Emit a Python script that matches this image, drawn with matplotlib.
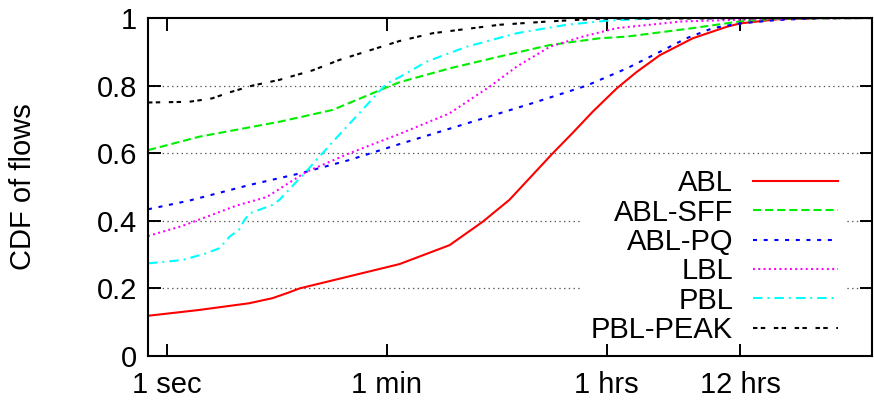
import numpy as np
import matplotlib

matplotlib.use('Agg')
import matplotlib.pyplot as plt

# flow duration (seconds) vs. cumulative fraction of flows
abl_t = [0.7, 1.8, 4.6, 7.1, 9.5, 11.8, 30, 76, 193, 357, 588, 1320, 1910, 2780,
         4350, 6330, 9700, 17900, 33700, 43200, 86000, 200000, 505000]
abl_v = [0.119, 0.136, 0.156, 0.171, 0.187, 0.200, 0.236, 0.272, 0.328, 0.397,
         0.462, 0.600, 0.660, 0.723, 0.792, 0.841, 0.890, 0.940, 0.974, 0.984,
         0.996, 1.0, 1.0]

sff_t = [0.7, 1.83, 8.1, 21.8, 60, 76, 193, 490, 1250, 3160, 5250, 17900,
         43200, 86000, 505000]
sff_v = [0.609, 0.649, 0.693, 0.728, 0.795, 0.810, 0.851, 0.886, 0.920, 0.940,
         0.945, 0.970, 0.990, 0.998, 1.0]

pq_t = [0.7, 1.52, 4.64, 11.8, 29.9, 76, 265, 903, 1590, 2480, 5250, 9700,
        15900, 26000, 43200, 86000, 200000, 505000]
pq_v = [0.434, 0.460, 0.506, 0.540, 0.580, 0.627, 0.688, 0.748, 0.777, 0.800,
        0.851, 0.900, 0.940, 0.970, 0.984, 0.994, 1.0, 1.0]

lbl_t = [0.7, 1.33, 2.2, 3.64, 4.64, 6.37, 13.4, 29.9, 76, 193, 407, 673,
         1250, 2310, 4345, 14860, 86000, 505000]
lbl_v = [0.355, 0.385, 0.415, 0.445, 0.456, 0.470, 0.545, 0.600, 0.657, 0.718,
         0.797, 0.856, 0.915, 0.945, 0.970, 0.990, 0.998, 1.0]

pbl_t = [0.7, 1.33, 2.08, 2.65, 3.2, 3.84, 4.22, 4.64, 7.12, 8.1, 13.4, 21.8,
         60, 76, 126, 265, 673, 1710, 3600, 9700, 505000]
pbl_v = [0.274, 0.284, 0.304, 0.319, 0.353, 0.375, 0.402, 0.422, 0.447, 0.462,
         0.547, 0.633, 0.807, 0.825, 0.871, 0.915, 0.955, 0.980, 0.992, 1.0, 1.0]

peak_t = [0.7, 1.5, 2.3, 3.2, 4.9, 8.1, 15, 24.8, 76, 141, 490, 1250, 3160,
          505000]
peak_v = [0.750, 0.752, 0.762, 0.780, 0.800, 0.817, 0.845, 0.876, 0.932, 0.955,
          0.980, 0.990, 0.998, 1.0]

xticks = [1, 60, 3600, 43200]
xticklabels = ['1 sec', '1 min', '1 hrs', '12 hrs']
yticks = [0, 0.2, 0.4, 0.6, 0.8, 1]
yticklabels = ['0', '0.2', '0.4', '0.6', '0.8', '1']

fs = 21
plt.rcParams['font.family'] = ['Liberation Sans', 'DejaVu Sans']
plt.rcParams['font.size'] = fs
plt.rcParams['lines.scale_dashes'] = False

fig = plt.figure(figsize=(8.74, 4.05), dpi=100)
ax = fig.add_axes([148 / 874, 1 - 356 / 405, 724 / 874, 338 / 405])

series = [
    (abl_t, abl_v, 'ABL', '#ff0000', '-'),
    (sff_t, sff_v, 'ABL-SFF', '#00ee00', (0, (5.8, 2.9))),
    (pq_t, pq_v, 'ABL-PQ', '#0000ff', (0, (2.9, 4.8))),
    (lbl_t, lbl_v, 'LBL', '#ff00ff', (0, (1.4, 2.4))),
    (pbl_t, pbl_v, 'PBL', '#00ffff', (0, (6.8, 3.6, 1.4, 3.6))),
    (peak_t, peak_v, 'PBL-PEAK', '#000000', (0, (3.2, 2.4, 3.2, 6.2))),
]
for t, v, name, col, ls in series:
    ax.plot(t, v, color=col, linestyle=ls, linewidth=1.5, label=name,
            dash_capstyle='butt', zorder=2)

# dotted horizontal guides (kept under the key box)
for y in yticks[1:-1]:
    ax.axhline(y, color='#555555', linewidth=0.9, linestyle=(0, (1.0, 2.4)),
               zorder=1)

ax.set_xscale('log')
ax.set_xlim(0.7, 505000)
ax.set_ylim(0, 1)
ax.set_xticks(xticks)
ax.set_xticklabels(xticklabels)
ax.xaxis.set_minor_locator(matplotlib.ticker.NullLocator())
ax.set_yticks(yticks)
ax.set_yticklabels(yticklabels)
ax.tick_params(direction='in', top=True, right=True, length=9, width=1.4,
               labelsize=fs)
ax.tick_params(axis='x', pad=11)
ax.tick_params(axis='y', pad=8)
for sp in ax.spines.values():
    sp.set_linewidth(1.5)

fig.text(23 / 874, 1 - 187 / 405, 'CDF of flows', rotation=90,
         ha='center', va='center', fontsize=fs)

leg = ax.legend(loc='lower right', bbox_to_anchor=(0.965, 0.01),
                markerfirst=False, frameon=True, fancybox=False,
                facecolor='white', edgecolor='none', framealpha=1,
                borderpad=0.3, borderaxespad=0, handlelength=2.91,
                handletextpad=0.68, labelspacing=0.045, fontsize=fs)
leg.set_zorder(1.2)

plt.savefig('out.png', dpi=100)
